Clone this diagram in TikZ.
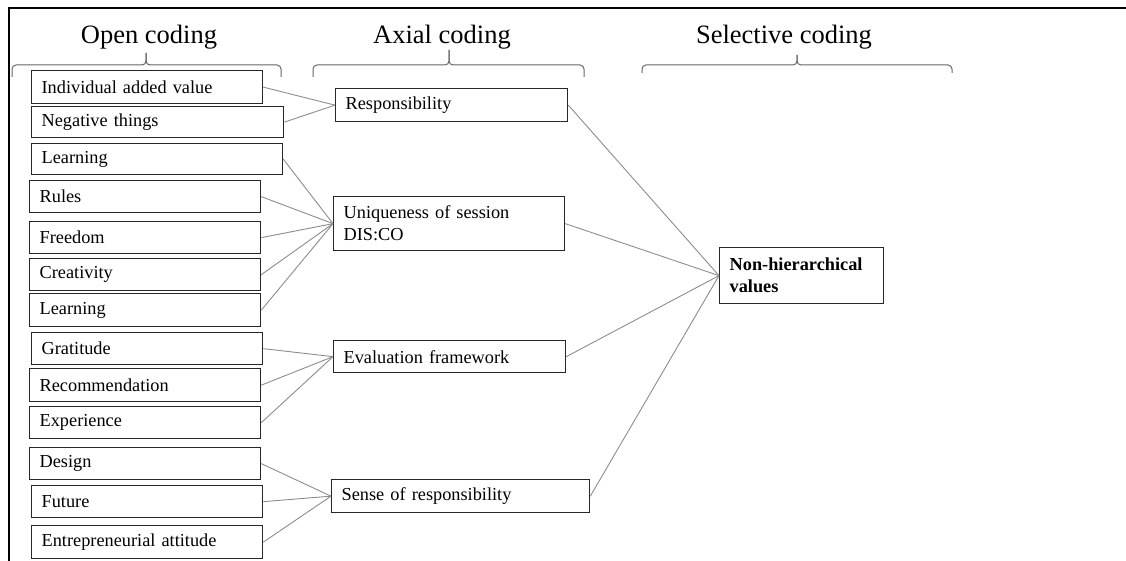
\documentclass[tikz,border=0pt]{standalone}
\usepackage{fontspec}
\setmainfont{Liberation Serif}
\begin{document}
\begin{tikzpicture}[x=1pt,y=-1pt,
  codebox/.style={draw=black!85, line width=1.3pt, inner xsep=10pt, inner ysep=0pt,
    align=left, anchor=north west, font=\fontsize{18.3}{22}\selectfont},
  link/.style={draw=black!45, line width=0.9pt},
  bracket/.style={draw=black!60, line width=1pt, rounded corners=4pt},
  heading/.style={font=\fontsize{26.5}{30}\selectfont, inner sep=0pt}]
\useasboundingbox (0,0) rectangle (1126,561);

% frame
\draw[line width=2pt] (1126,8) -- (9,8) -- (9,561);

% column headings
\node[heading] (hopen) at (149,37) {Open coding};
\node[heading] (haxial) at (442,37) {Axial coding};
\node[heading] (hsel) at (784,37) {Selective coding};

% curly brackets under the headings
\draw[bracket] (12,77) -- (12,65) -- (146,65) -- (146,53);
\draw[bracket] (281,77) -- (281,65) -- (146,65) -- (146,53);
\draw[bracket] (313,77) -- (313,65) -- (449,65) -- (449,50);
\draw[bracket] (584,77) -- (584,65) -- (449,65) -- (449,50);
\draw[bracket] (642,73) -- (642,65) -- (797,65) -- (797,55);
\draw[bracket] (952,73) -- (952,65) -- (797,65) -- (797,55);

% open codes
\node[codebox, text width=211pt, minimum height=33pt] (o1) at (31,70) {Individual added value};
\node[codebox, text width=232pt, minimum height=31pt] (o2) at (31,106) {Negative things};
\node[codebox, text width=231pt, minimum height=31pt] (o3) at (31,143) {Learning};
\node[codebox, text width=211pt, minimum height=32pt] (o4) at (29,180) {Rules};
\node[codebox, text width=211pt, minimum height=32pt] (o5) at (29,221) {Freedom};
\node[codebox, text width=211pt, minimum height=32pt] (o6) at (29,258) {Creativity};
\node[codebox, text width=211pt, minimum height=33pt] (o7) at (29,293) {Learning};
\node[codebox, text width=211pt, minimum height=32pt] (o8) at (31,332) {Gratitude};
\node[codebox, text width=211pt, minimum height=33pt] (o9) at (29,368) {Recommendation};
\node[codebox, text width=211pt, minimum height=32pt] (o10) at (29,406) {Experience};
\node[codebox, text width=211pt, minimum height=32pt] (o11) at (29,447) {Design};
\node[codebox, text width=211pt, minimum height=32pt] (o12) at (31,485) {Future};
\node[codebox, text width=211pt, minimum height=33pt] (o13) at (31,525) {Entrepreneurial attitude};

% axial codes
\node[codebox, text width=212pt, minimum height=33pt] (a1) at (335,88) {Responsibility};
\node[codebox, text width=211pt, minimum height=54pt] (a2) at (333,196) {Uniqueness of session\\DIS:CO};
\node[codebox, text width=212pt, minimum height=32pt] (a3) at (333,340) {Evaluation framework};
\node[codebox, text width=238pt, minimum height=33pt] (a4) at (331,479) {Sense of responsibility};

% selective code
\node[codebox, text width=144pt, minimum height=56pt, font=\fontsize{18.3}{22}\selectfont\bfseries] (s1) at (719,247) {Non-hierarchical\\values};

% links: open -> axial
\foreach \o in {o1,o2} \draw[link] (\o.east) -- (a1.west);
\foreach \o in {o3,o4,o5,o6,o7} \draw[link] (\o.east) -- (a2.west);
\foreach \o in {o8,o9,o10} \draw[link] (\o.east) -- (a3.west);
\foreach \o in {o11,o12,o13} \draw[link] (\o.east) -- (a4.west);

% links: axial -> selective
\foreach \a in {a1,a2,a3,a4} \draw[link] (\a.east) -- (s1.west);
\end{tikzpicture}
\end{document}
